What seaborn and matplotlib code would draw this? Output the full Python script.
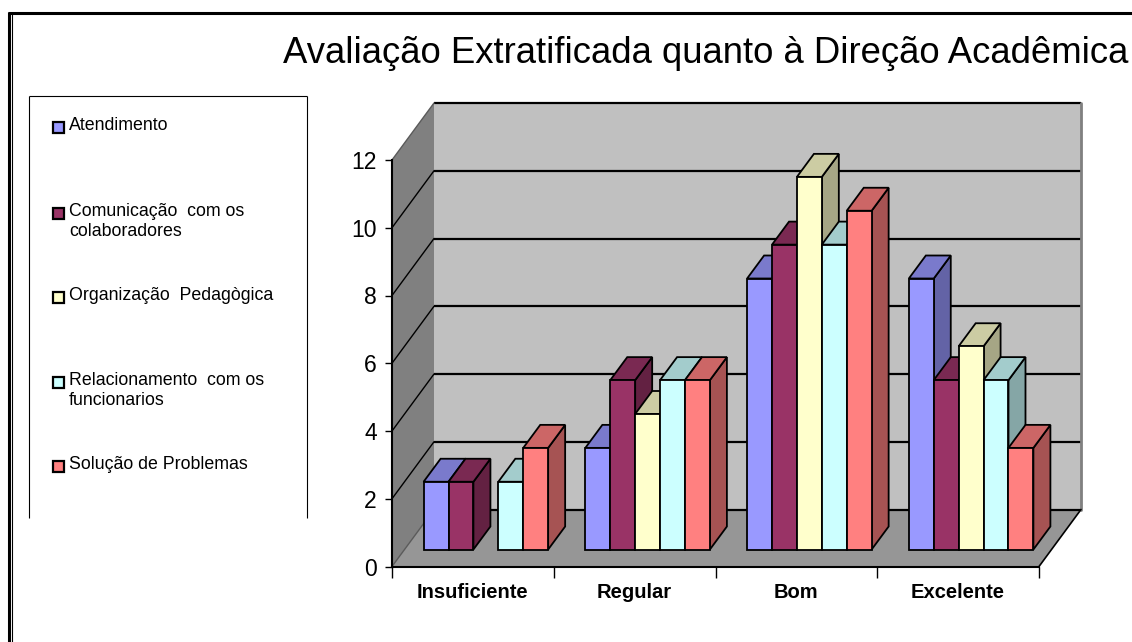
import numpy as np
import pandas as pd
import matplotlib
matplotlib.use("Agg")
import matplotlib.pyplot as plt
import seaborn as sns
from matplotlib.patches import Polygon, Rectangle
from matplotlib.lines import Line2D
from matplotlib.transforms import Affine2D

# ---------------- data ----------------
categorias = ["Insuficiente", "Regular", "Bom", "Excelente"]
series = ["Atendimento",
          "Comunicação  com os\ncolaboradores",
          "Organização  Pedagògica",
          "Relacionamento  com os\nfuncionarios",
          "Solução de Problemas"]
atendimento = [2, 3, 8, 8]
comunicacao = [2, 5, 9, 5]
organizacao = [0, 4, 11, 6]
relacionamento = [2, 5, 9, 5]
solucao = [3, 5, 10, 3]
y_ticks = [0, 2, 4, 6, 8, 10, 12]
titulo = "Avaliação Extratificada quanto à Direção Acadêmica"
cores = ["#9999FF", "#993366", "#FFFFCC", "#CCFFFF", "#FF8080"]

valores = [atendimento, comunicacao, organizacao, relacionamento, solucao]
rows = []
for s, vals in zip(series, valores):
    for c, v in zip(categorias, vals):
        rows.append({"categoria": c, "serie": s, "valor": v})
df = pd.DataFrame(rows)

# ---------------- style ----------------
sns.set_style("white")
plt.rcParams["font.family"] = ["Liberation Sans", "DejaVu Sans"]

W, H = 1132, 642
fig = plt.figure(figsize=(W / 100, H / 100), dpi=100)
fig.patch.set_facecolor("white")
ax = fig.add_axes([392 / W, (H - 566.5) / H, 647 / W, 406.5 / H])

sns.barplot(data=df, x="categoria", y="valor", hue="serie",
            order=categorias, hue_order=series, palette=cores,
            saturation=1, width=0.77, edgecolor="black", linewidth=1.3,
            errorbar=None, legend=False, ax=ax)

ax.set_xlim(-0.5, 3.5)
ax.set_ylim(0, 12)
ax.set_facecolor("none")
ax.set_xlabel("")
ax.set_ylabel("")


def px(dx, dy):
    inv = ax.transData.inverted()
    o = ax.transData.transform((0, 0))
    return inv.transform(o + np.array([dx, dy]))


F = px(13, 17)   # bar front plane offset
D = px(17, 23)   # bar depth
B = px(42, 57)   # back wall offset

# ---------------- 3D bars ----------------
bars = sorted([p for p in ax.patches], key=lambda r: r.get_x())
for i, p in enumerate(bars):
    h = p.get_height()
    z = 3 + i * 0.01
    if h <= 0:
        p.set_visible(False)
        continue
    p.set_transform(Affine2D().translate(F[0], F[1]) + ax.transData)
    p.set_zorder(z + 0.005)
    p.set_clip_on(False)
    x0 = p.get_x() + F[0]
    x1 = x0 + p.get_width()
    y0 = F[1]
    y1 = h + F[1]
    fc = np.array(p.get_facecolor()[:3])
    side = Polygon([(x1, y0), (x1 + D[0], y0 + D[1]), (x1 + D[0], y1 + D[1]), (x1, y1)],
                   closed=True, fc=fc * 0.65, ec="black", lw=1.3, zorder=z,
                   clip_on=False, joinstyle="miter")
    top = Polygon([(x0, y1), (x1, y1), (x1 + D[0], y1 + D[1]), (x0 + D[0], y1 + D[1])],
                  closed=True, fc=fc * 0.8, ec="black", lw=1.3, zorder=z,
                  clip_on=False, joinstyle="miter")
    ax.add_patch(side)
    ax.add_patch(top)

# ---------------- walls ----------------
bx, by = B
xl, xr = -0.5, 3.5
ymax = y_ticks[-1]
ax.add_patch(Polygon([(xl + bx, by), (xr + bx, by), (xr + bx, ymax + by), (xl + bx, ymax + by)],
                     fc="#C0C0C0", ec="none", zorder=0.5, clip_on=False))
ax.add_patch(Polygon([(xl, 0), (xl, ymax), (xl + bx, ymax + by), (xl + bx, by)],
                     fc="#808080", ec="none", zorder=0.6, clip_on=False))
ax.add_patch(Polygon([(xl, 0), (xr, 0), (xr + bx, by), (xl + bx, by)],
                     fc="#969696", ec="none", zorder=0.7, clip_on=False))
for v in y_ticks:
    ax.plot([xl + bx, xr + bx], [v + by, v + by], color="black", lw=1.6,
            zorder=0.9, clip_on=False, solid_capstyle="butt")
    dcol = "#5a5a5a" if v in (0, ymax) else "black"
    ax.plot([xl, xl + bx], [v, v + by], color=dcol, lw=1.0, zorder=0.95, clip_on=False)
ax.plot([xr + bx, xr + bx], [by, ymax + by], color="#808080", lw=2, zorder=0.9, clip_on=False)
ax.plot([xr, xr + bx], [0, by], color="black", lw=1.2, zorder=0.95, clip_on=False)

# ---------------- axes ----------------
for s in ["top", "right"]:
    ax.spines[s].set_visible(False)
for s in ["left", "bottom"]:
    ax.spines[s].set_color("black")
    ax.spines[s].set_linewidth(1.5)
    ax.spines[s].set_zorder(2.5)

ax.set_yticks(y_ticks)
ax.set_yticklabels([str(v) for v in y_ticks])
ax.tick_params(axis="y", left=True, length=5, width=1, color="black",
               direction="out", pad=6, labelsize=16.5, labelcolor="black")

ax.set_xticks([-0.5, 0.5, 1.5, 2.5, 3.5])
ax.set_xticklabels([""] * 5)
ax.set_xticks(range(len(categorias)), minor=True)
ax.set_xticklabels(categorias, minor=True, fontweight="bold", fontsize=14.5)
ax.tick_params(axis="x", which="major", bottom=True, length=8, width=1, color="black",
               direction="out")
ax.tick_params(axis="x", which="minor", bottom=True, length=0, pad=12, labelcolor="black")

# ---------------- title ----------------
fig.text(283 / W, 1 - 63 / H, titulo, fontsize=26.3, ha="left", va="baseline", color="black")

# ---------------- legend (manual) ----------------
def fl(x0, y0, x1, y1, lw=0.8):
    fig.add_artist(Line2D([x0 / W, x1 / W], [1 - y0 / H, 1 - y1 / H], color="black",
                          lw=lw, transform=fig.transFigure, solid_capstyle="butt"))

fl(29, 96, 29, 518)
fl(29, 96, 307, 96)
fl(307, 96, 307, 518)

centros = [127.5, 213, 297, 382, 466]
for s, cor, c in zip(series, cores, centros):
    fig.add_artist(Rectangle((53 / W, 1 - (c + 5.5) / H), 11 / W, 11 / H, fc=cor, ec="black",
                             lw=1.6, transform=fig.transFigure))
    fig.text(69 / W, 1 - (c - 10) / H, s, fontsize=12.8, ha="left", va="top",
             linespacing=1.2, color="black")

# ---------------- outer frame ----------------
fl(8, 12.5, W, 12.5, lw=2.2)
fl(9, 11.5, 9, H, lw=2.2)
fl(12, 14, 12, H, lw=0.8)

fig.savefig("out.png", dpi=100)
